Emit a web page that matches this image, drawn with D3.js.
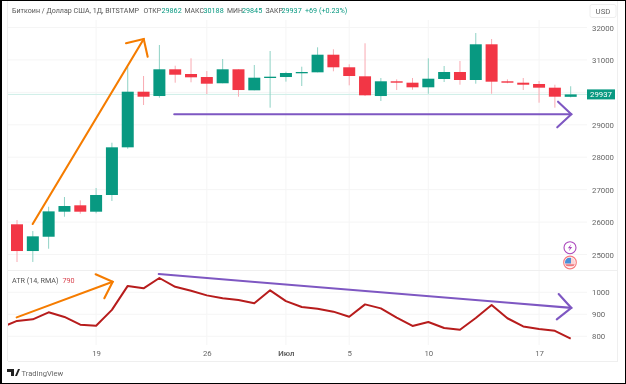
<!DOCTYPE html>
<html>
<head>
<meta charset="utf-8">
<script src="https://cdn.jsdelivr.net/npm/d3@7"></script>
<style>
html,body{margin:0;padding:0;background:#fff}
text{font-family:Roboto,"Liberation Sans",sans-serif}
svg{filter:blur(0.35px)}
</style>
</head>
<body>
<div id="chart"></div>
<script>
// one candle per day, 14 Jun - 19 Jul, index 0 = 14 Jun
var opens  = [25931,25107,25548,26320,26517,26320,26835,28305,30020,29887,30711,30566,30473,30280,30711,30063,30443,30473,30588,30618,31161,30773,30495,29887,30341,30298,30156,30412,30628,30381,31482,30341,30298,30258,30144,29862];
var closes = [25107,25560,26330,26495,26320,26835,28305,30020,29866,30711,30544,30464,30267,30711,30072,30452,30483,30597,30628,31161,30773,30504,29909,30341,30298,30156,30421,30628,30381,31482,30329,30298,30236,30144,29866,29937];
var highs  = [26064,25725,26473,26773,26670,27050,28447,30782,30504,31460,30822,31050,30658,31029,30711,30844,31275,30637,30791,31389,31328,30865,31513,30443,30402,30443,31050,30813,30967,31830,31645,30402,30443,30350,30236,30188];
var lows   = [24768,24770,25178,26165,26258,26270,26650,28260,29610,29835,30298,30310,29949,30280,29866,30063,29527,30330,30196,30618,30649,30217,29887,29733,30072,30082,29958,30319,30236,30267,29958,30280,30072,29681,29527,29845];

// ATR starts one day earlier (13 Jun), that point falls outside the pane
var atrValues = [840,870,877,909,888,853,848,920,1029,1018,1065,1025,1007,986,973,965,950,1009,960,933,925,912,889,945,927,885,847,865,838,830,883,942,882,845,833,825,789];

var priceTicks = [25000,26000,27000,28000,29000,30000,31000,32000];
var atrTicks = [800,900,1000];
var dayTicks = [5,12,17,21,26,33];
var dayLabels = ["19","26","Июл","5","10","17"];

// hand drawn arrows: [day index, value]
var priceArrows = [
  {color:"#f57c00", line:[[0.99,25940],[8.01,31645]], head:[[6.89,31513],[8.01,31645],[8.26,31099]]},
  {color:"#7e57c2", line:[[9.94,29323],[35.04,29323]], head:[[34.2,29712],[35.04,29323],[34.15,28922]]}
];
var atrArrows = [
  {color:"#f57c00", line:[[-0.02,886],[6.05,1048]], head:[[4.97,1082],[6.05,1048],[5.52,973]]},
  {color:"#7e57c2", line:[[8.96,1083],[35.04,929]], head:[[34.24,992],[35.04,929],[34.12,877]]}
];

var width = 626, height = 384;
var up = "#089981", down = "#f23645";

var svg = d3.select("#chart").append("svg")
  .attr("width", width).attr("height", height)
  .style("display","block");

svg.append("rect").attr("width",width).attr("height",height).attr("fill","#fff");

var x = d3.scaleLinear().domain([0,35]).range([17,570.7]);
var y = d3.scaleLinear().domain([25000,32000]).range([254.5,27.5]);
var yAtr = d3.scaleLinear().domain([800,1000]).range([336.3,292.3]);

var paneLeft = 8, paneRight = 618, axisX = 587;

svg.append("clipPath").attr("id","atrclip").append("rect")
  .attr("x",paneLeft).attr("y",270).attr("width",paneRight-paneLeft).attr("height",75);

// grid
var grid = svg.append("g").attr("stroke","#f5f5f5").attr("stroke-width",1);
grid.selectAll(".v").data(dayTicks).enter().append("line")
  .attr("x1",function(d){return x(d)}).attr("x2",function(d){return x(d)})
  .attr("y1",20).attr("y2",345);
grid.selectAll(".h").data(priceTicks).enter().append("line")
  .attr("x1",paneLeft).attr("x2",axisX)
  .attr("y1",function(d){return y(d)}).attr("y2",function(d){return y(d)});
grid.selectAll(".a").data(atrTicks).enter().append("line")
  .attr("x1",paneLeft).attr("x2",axisX)
  .attr("y1",function(d){return yAtr(d)}).attr("y2",function(d){return yAtr(d)});

// pane borders
var frame = svg.append("g").attr("stroke","#efefef").attr("stroke-width",1);
frame.append("line").attr("x1",paneLeft).attr("x2",paneRight).attr("y1",270.5).attr("y2",270.5);
frame.append("line").attr("x1",paneLeft).attr("x2",paneRight).attr("y1",361.5).attr("y2",361.5);
frame.append("line").attr("x1",paneRight-0.5).attr("x2",paneRight-0.5).attr("y1",0).attr("y2",361);
frame.append("line").attr("x1",paneLeft-0.5).attr("x2",paneLeft-0.5).attr("y1",0).attr("y2",361);

// last price line
var lastClose = closes[closes.length-1];
svg.append("line").attr("x1",paneLeft).attr("x2",axisX)
  .attr("y1",y(lastClose)).attr("y2",y(lastClose))
  .attr("stroke","#cdeee7").attr("stroke-width",1);

// candles
var candles = d3.range(opens.length);
var cg = svg.append("g");
cg.selectAll(".wick").data(candles).enter().append("line")
  .attr("x1",function(i){return x(i)}).attr("x2",function(i){return x(i)})
  .attr("y1",function(i){return y(highs[i])}).attr("y2",function(i){return y(lows[i])})
  .attr("stroke",function(i){return closes[i]>=opens[i] ? "#8fd2c5" : "#f9aab2"})
  .attr("stroke-width",1);
cg.selectAll(".body").data(candles).enter().append("rect")
  .attr("x",function(i){return x(i)-6})
  .attr("width",12)
  .attr("y",function(i){return y(Math.max(opens[i],closes[i]))})
  .attr("height",function(i){return Math.max(1,Math.abs(y(opens[i])-y(closes[i])))})
  .attr("fill",function(i){return closes[i]>=opens[i] ? up : down});

// atr line
var atrLine = d3.line()
  .x(function(d,i){return x(i-1)})
  .y(function(d){return yAtr(d)});
svg.append("path").datum(atrValues)
  .attr("d",atrLine)
  .attr("clip-path","url(#atrclip)")
  .attr("fill","none").attr("stroke","#b71c1c").attr("stroke-width",2)
  .attr("stroke-linejoin","round");

// arrows
function drawArrows(list, scale){
  var l = d3.line().x(function(p){return x(p[0])}).y(function(p){return scale(p[1])});
  list.forEach(function(a){
    svg.append("path").attr("d",l(a.line)).attr("fill","none").attr("stroke",a.color).attr("stroke-width",2.1).attr("stroke-linecap","round");
    svg.append("path").attr("d",l(a.head)).attr("fill","none").attr("stroke",a.color).attr("stroke-width",2.1).attr("stroke-linecap","round").attr("stroke-linejoin","miter");
  });
}
drawArrows(priceArrows,y);
drawArrows(atrArrows,yAtr);

// axes
function styleAxis(g){
  g.select(".domain").remove();
  g.selectAll(".tick line").remove();
  g.selectAll(".tick text").attr("fill","#666").style("font-size","7.8px").style("font-family","Roboto,sans-serif");
}
svg.append("g").attr("transform","translate(583,0)")
  .call(d3.axisRight(y).tickValues(priceTicks.filter(function(d){return d!=30000})).tickFormat(d3.format("d")))
  .call(styleAxis);
svg.append("g").attr("transform","translate(583,0)")
  .call(d3.axisRight(yAtr).tickValues(atrTicks).tickFormat(d3.format("d")))
  .call(styleAxis);
svg.append("g").attr("transform","translate(0,341)")
  .call(d3.axisBottom(x).tickValues(dayTicks).tickFormat(function(d,i){return dayLabels[i]}))
  .call(styleAxis)
  .selectAll(".tick text").style("font-weight",function(d,i){return dayLabels[i]=="Июл" ? "bold":null});

// last price tag
svg.append("rect").attr("x",587).attr("y",y(lastClose)-5).attr("width",28).attr("height",10).attr("fill",up);
svg.append("text").attr("x",601).attr("y",y(lastClose)+3).attr("text-anchor","middle")
  .attr("fill","#fff").style("font-size","7.8px").text(lastClose);

// USD button
svg.append("rect").attr("x",590).attr("y",4.5).attr("width",26).attr("height",13).attr("rx",2)
  .attr("fill","#fff").attr("stroke","#eee");
svg.append("text").attr("x",603).attr("y",13.5).attr("text-anchor","middle").attr("fill","#666").style("font-size","7.8px").text("USD");

// header
var header = [
  ["Биткоин / Доллар США, 1Д, BITSTAMP",12,"#555",7.1],
  ["ОТКР",143.5,"#555",6.9],["29862",161.5,up,7.2],
  ["МАКС",184.5,"#555",6.9],["30188",203.5,up,7.2],
  ["МИН",227,"#555",6.9],["29845",242,up,7.2],
  ["ЗАКР",265.5,"#555",6.9],["29937",281.5,up,7.2],
  ["+69 (+0.23%)",305,up,7.2]
];
svg.selectAll(".hd").data(header).enter().append("text")
  .attr("x",function(d){return d[1]}).attr("y",13)
  .attr("fill",function(d){return d[2]})
  .style("font-size",function(d){return d[3]+"px"}).text(function(d){return d[0]});

// atr legend
svg.append("text").attr("x",12).attr("y",283).attr("fill","#555").style("font-size","7.2px").text("ATR (14, RMA)");
svg.append("text").attr("x",62.5).attr("y",283).attr("fill","#d9434e").style("font-size","7.2px").text("790");

// event icons
var ic = svg.append("g").attr("transform","translate(570,247.7)");
ic.append("circle").attr("r",6).attr("fill","#fff").attr("stroke","#ab47bc").attr("stroke-width",1.1);
ic.append("path").attr("d","M1.2,-3.5L-2.2,0.6H0L-1.2,3.5L2.2,-0.6H0Z").attr("fill","#ab47bc");
svg.append("clipPath").attr("id","flagclip").append("circle").attr("r",5);
var fl = svg.append("g").attr("transform","translate(570,262.5)");
fl.append("circle").attr("r",6.3).attr("fill","#fff").attr("stroke","#f77c80").attr("stroke-width",1.2);
var flag = fl.append("g").attr("clip-path","url(#flagclip)");
flag.append("rect").attr("x",-5).attr("y",-5).attr("width",10).attr("height",10).attr("fill","#fbd5d6");
flag.append("rect").attr("x",-5).attr("y",-5).attr("width",6).attr("height",6).attr("fill","#4a90d9");
flag.append("rect").attr("x",-5).attr("y",2).attr("width",10).attr("height",1.2).attr("fill","#e8505b");

// logo
svg.append("text").attr("x",21.5).attr("y",375.5).attr("fill","#666").style("font-size","7.6px").text("TradingView");
svg.append("path").attr("d","M7,369H14V376H11V372H7ZM15,376L18,369H20L17,376Z").attr("fill","#222");

// image border
svg.append("rect").attr("x",0).attr("y",0).attr("width",2).attr("height",height).attr("fill","#000");
svg.append("rect").attr("x",0).attr("y",0).attr("width",width).attr("height",1).attr("fill","#000");
svg.append("rect").attr("x",0).attr("y",height-1).attr("width",width).attr("height",1).attr("fill","#000");
svg.append("rect").attr("x",width-1).attr("y",0).attr("width",1).attr("height",height).attr("fill","#000");
</script>
</body>
</html>
